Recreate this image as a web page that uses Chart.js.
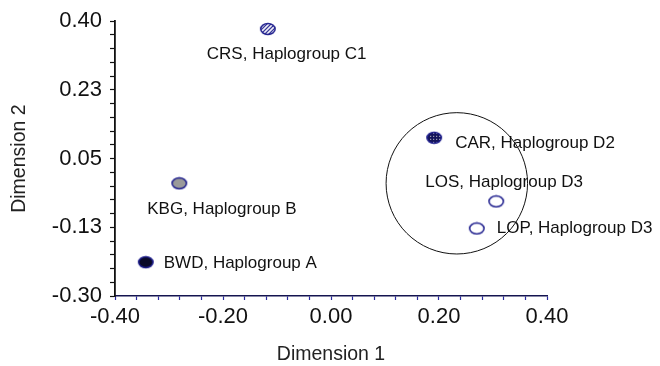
<!DOCTYPE html>
<html>
<head>
<meta charset="utf-8">
<script src="https://cdn.jsdelivr.net/npm/chart.js@4.4.1/dist/chart.umd.min.js"></script>
<style>
  html, body { margin: 0; padding: 0; background: #fff; }
  #wrap { width: 660px; height: 366px; }
</style>
</head>
<body>
<div id="wrap"><canvas id="chart" width="660" height="366"></canvas></div>
<script>
// datos
var populations = ['CRS, Haplogroup C1', 'KBG, Haplogroup B', 'BWD, Haplogroup A',
                   'CAR, Haplogroup D2', 'LOS, Haplogroup D3', 'LOP, Haplogroup D3'];
var dim1 = [-0.117, -0.281, -0.343, 0.191, 0.306, 0.270];
var dim2 = [0.380, -0.013, -0.214, 0.103, -0.059, -0.128];
var xTickLabels = ['-0.40', '-0.20', '0.00', '0.20', '0.40'];
var yTickLabels = ['-0.30', '-0.13', '0.05', '0.23', '0.40'];
var clusterCenter = [0.233, -0.013];
var clusterRadius = [0.131, 0.180];

// estilos (no son datos)
var labelOffsets = [[-61, 25], [-32, 26], [18, 1], [21, 6], [-71, -19], [20, 0]];
var FONT = "'Liberation Sans', Arial, sans-serif";
var NAVY = '#1c1c8c';

function makeMarker(kind) {
    var c = document.createElement('canvas');
    c.width = 18; c.height = 14;
    var g = c.getContext('2d');
    g.beginPath();
    g.ellipse(9, 7, 7.2, 5.5, 0, 0, Math.PI * 2);
    g.closePath();
    if (kind === 'gray') g.fillStyle = '#9a9a9a';
    else if (kind === 'dark') g.fillStyle = '#0a0a28';
    else if (kind === 'dots') g.fillStyle = '#14145a';
    else g.fillStyle = '#ffffff';
    g.fill();
    if (kind === 'hatch' || kind === 'dots') {
        g.save();
        g.clip();
        if (kind === 'hatch') {
            g.strokeStyle = NAVY;
            g.lineWidth = 1.2;
            for (var k = -16; k < 34; k += 4) {
                g.beginPath();
                g.moveTo(k, 14);
                g.lineTo(k + 14, 0);
                g.stroke();
            }
        } else {
            g.fillStyle = '#e0e0e0';
            for (var i = 2; i < 18; i += 3) {
                for (var j = 2; j < 14; j += 3) {
                    g.fillRect(i, j, 1, 1);
                }
            }
        }
        g.restore();
    }
    g.beginPath();
    g.ellipse(9, 7, 7.2, 5.5, 0, 0, Math.PI * 2);
    g.strokeStyle = NAVY;
    g.lineWidth = 1.5;
    g.stroke();
    return c;
}

var markers = [makeMarker('hatch'), makeMarker('gray'), makeMarker('dark'),
               makeMarker('dots'), makeMarker('open'), makeMarker('open')];

var points = dim1.map(function(x, i) {
    return { x: x, y: dim2[i] };
});

// círculo del grupo D
var clusterPlugin = {
    id: 'cluster',
    beforeDatasetsDraw: function(chart) {
        var xs = chart.scales.x, ys = chart.scales.y;
        var cx = xs.getPixelForValue(clusterCenter[0]);
        var cy = ys.getPixelForValue(clusterCenter[1]);
        var rx = Math.abs(xs.getPixelForValue(clusterCenter[0] + clusterRadius[0]) - cx);
        var ry = Math.abs(ys.getPixelForValue(clusterCenter[1] + clusterRadius[1]) - cy);
        var ctx = chart.ctx;
        ctx.save();
        ctx.beginPath();
        ctx.ellipse(cx, cy, rx, ry, 0, 0, Math.PI * 2);
        ctx.strokeStyle = '#111';
        ctx.lineWidth = 1;
        ctx.stroke();
        ctx.restore();
    }
};

// etiquetas de cada población
var labelPlugin = {
    id: 'pointLabels',
    afterDatasetsDraw: function(chart) {
        var ctx = chart.ctx;
        var meta = chart.getDatasetMeta(0);
        ctx.save();
        ctx.font = '17px ' + FONT;
        ctx.fillStyle = '#111';
        ctx.textAlign = 'left';
        ctx.textBaseline = 'middle';
        meta.data.forEach(function(pt, i) {
            ctx.fillText(populations[i], pt.x + labelOffsets[i][0], pt.y + labelOffsets[i][1]);
        });
        ctx.restore();
    }
};

function minorTicks(min, step, n) {
    var t = [];
    for (var i = 0; i <= n; i++) t.push({ value: min + i * step });
    return t;
}

new Chart(document.getElementById('chart').getContext('2d'), {
    type: 'scatter',
    data: {
        datasets: [{
            data: points,
            pointStyle: markers,
            pointRadius: 7,
            pointHoverRadius: 7
        }]
    },
    options: {
        responsive: false,
        animation: false,
        events: [],
        layout: { padding: { top: 20, right: 113, left: 0, bottom: 0 } },
        plugins: { legend: { display: false }, tooltip: { enabled: false } },
        scales: {
            x: {
                type: 'linear',
                min: -0.40,
                max: 0.40,
                afterBuildTicks: function(scale) {
                    scale.ticks = minorTicks(-0.40, 0.04, 20);
                },
                afterFit: function(scale) { scale.height = 70; },
                grid: { drawOnChartArea: false, drawTicks: true, tickLength: 4, tickColor: '#2a2aa0', tickWidth: 1.2 },
                border: { display: true, color: '#141450', width: 1.5 },
                ticks: {
                    autoSkip: false,
                    maxRotation: 0,
                    padding: 4,
                    color: '#111',
                    font: { family: FONT, size: 22 },
                    callback: function(v, i) { return i % 5 === 0 ? xTickLabels[i / 5] : ''; }
                },
                title: {
                    display: true,
                    text: 'Dimension 1',
                    color: '#222',
                    font: { family: FONT, size: 19.5 },
                    padding: { top: 0, bottom: 0 }
                }
            },
            y: {
                type: 'linear',
                min: -0.30,
                max: 0.40,
                afterBuildTicks: function(scale) {
                    scale.ticks = minorTicks(-0.30, 0.035, 20);
                },
                afterFit: function(scale) { scale.width = 115; },
                grid: { drawOnChartArea: false, drawTicks: true, tickLength: 5, tickColor: '#111', tickWidth: 1.2 },
                border: { display: true, color: '#111', width: 1.8 },
                ticks: {
                    autoSkip: false,
                    padding: 8,
                    color: '#111',
                    font: { family: FONT, size: 22 },
                    callback: function(v, i) { return i % 5 === 0 ? yTickLabels[i / 5] : ''; }
                },
                title: {
                    display: true,
                    text: 'Dimension 2',
                    color: '#222',
                    font: { family: FONT, size: 19.5 },
                    padding: { top: 8, bottom: 0 }
                }
            }
        }
    },
    plugins: [clusterPlugin, labelPlugin]
});
</script>
</body>
</html>
